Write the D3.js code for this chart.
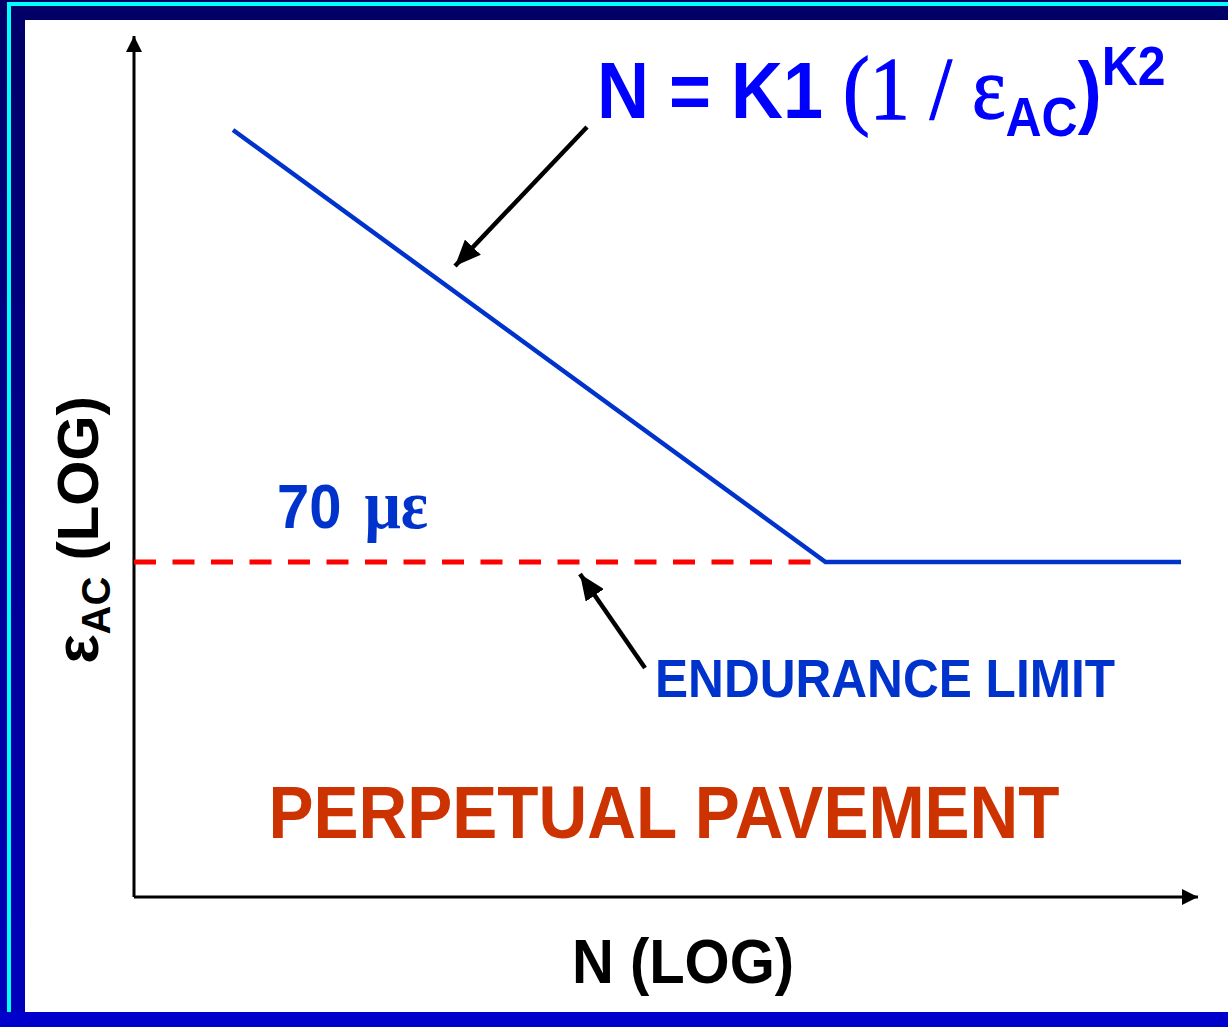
<!DOCTYPE html>
<html>
<head>
<meta charset="utf-8">
<script src="https://cdn.jsdelivr.net/npm/d3@7"></script>
<style>
  html, body { margin: 0; padding: 0; background: #ffffff; }
  svg { display: block; }
</style>
</head>
<body>
<script>
// Fatigue relationship: strain at the bottom of the asphalt layer vs. load repetitions
const fatigueN = [1e3, 1e8];          // load repetitions on the sloped branch
const fatigueStrain = [1000, 70];     // microstrain on the sloped branch
const plateauN = [1e8, 1e11];         // beyond the endurance limit
const plateauStrain = [70, 70];
const enduranceLimit = 70;            // microstrain
const limitLabel = "70 ";
const limitUnit = "\u03bc\u03b5";
const xAxisTitle = "N (LOG)";
const yAxisTitle = ["\u03b5", "AC", " (LOG)"];
const zoneLabel = "PERPETUAL PAVEMENT";
const limitName = "ENDURANCE LIMIT";

const W = 1228, H = 1027;
const sans = "'Liberation Sans', Arial, sans-serif";
const serif = "'Liberation Serif', 'Times New Roman', serif";
const stretch = 1.1;

const svg = d3.select("body").append("svg")
  .attr("width", W).attr("height", H);

const defs = svg.append("defs");
const grad = defs.append("linearGradient")
  .attr("id", "sideBand").attr("x1", 0).attr("y1", 0).attr("x2", 0).attr("y2", 1);
grad.append("stop").attr("offset", "0%").attr("stop-color", "#000066");
grad.append("stop").attr("offset", "100%").attr("stop-color", "#0000bb");

function arrowMarker(id, len, half) {
  defs.append("marker")
    .attr("id", id)
    .attr("viewBox", `0 ${-half} ${len} ${half * 2}`)
    .attr("refX", len).attr("refY", 0)
    .attr("markerUnits", "userSpaceOnUse")
    .attr("markerWidth", len).attr("markerHeight", half * 2)
    .attr("orient", "auto")
    .append("path")
    .attr("d", `M0,${-half}L${len},0L0,${half}Z`)
    .attr("fill", "#000");
}
arrowMarker("axisHead", 16, 8);
arrowMarker("pointer", 26, 11);

// slide frame
svg.append("rect").attr("x", 0).attr("y", 0).attr("width", W).attr("height", 20).attr("fill", "#000066");
svg.append("rect").attr("x", 0).attr("y", 0).attr("width", 25).attr("height", 1012).attr("fill", "url(#sideBand)");
svg.append("rect").attr("x", 7).attr("y", 2).attr("width", W - 7).attr("height", 4).attr("fill", "#00ffff");
svg.append("rect").attr("x", 7).attr("y", 2).attr("width", 4).attr("height", 1010).attr("fill", "#00ffff");
svg.append("rect").attr("x", 0).attr("y", 1012).attr("width", W).attr("height", H - 1012).attr("fill", "#0000cc");

// scales
const x = d3.scaleLog().domain([1e3, 1e11]).range([233, 1181]);
const y = d3.scaleLog().domain([70, 1000]).range([562, 130]);

const originX = 134, originY = 897;

// axes with arrow heads
svg.append("line")
  .attr("x1", originX).attr("y1", originY).attr("x2", 1198).attr("y2", originY)
  .attr("stroke", "#000").attr("stroke-width", 3).attr("marker-end", "url(#axisHead)");
svg.append("line")
  .attr("x1", originX).attr("y1", originY).attr("x2", originX).attr("y2", 36)
  .attr("stroke", "#000").attr("stroke-width", 3).attr("marker-end", "url(#axisHead)");

// endurance limit dashed line
svg.append("line")
  .attr("x1", originX).attr("x2", x(plateauN[0]))
  .attr("y1", y(enduranceLimit)).attr("y2", y(enduranceLimit))
  .attr("stroke", "#ff0000").attr("stroke-width", 5)
  .attr("stroke-dasharray", "22 16.5");

// fatigue curve
const line = d3.line().x(d => x(d[0])).y(d => y(d[1]));
const curve = d3.zip(fatigueN, fatigueStrain).concat(d3.zip(plateauN, plateauStrain).slice(1));
svg.append("path")
  .attr("d", line(curve))
  .attr("fill", "none").attr("stroke", "#0033cc").attr("stroke-width", 4.5);

// pointer arrows
svg.append("line")
  .attr("x1", 587).attr("y1", 127).attr("x2", 455).attr("y2", 266)
  .attr("stroke", "#000").attr("stroke-width", 4.5).attr("marker-end", "url(#pointer)");
svg.append("line")
  .attr("x1", 645).attr("y1", 668).attr("x2", 580).attr("y2", 574)
  .attr("stroke", "#000").attr("stroke-width", 4.5).attr("marker-end", "url(#pointer)");

// formula
const f = svg.append("text")
  .attr("transform", `translate(597,118) scale(1,${stretch})`)
  .attr("fill", "#0000ff");
f.append("tspan").attr("font-family", sans).attr("font-weight", "bold").attr("font-size", 72).text("N = K1 ");
f.append("tspan").attr("font-family", serif).attr("font-size", 80)
  .attr("stroke", "#0000ff").attr("stroke-width", 1.2).text("(1 / \u03b5");
f.append("tspan").attr("font-family", sans).attr("font-weight", "bold").attr("font-size", 50).attr("dy", 16).text("AC");
f.append("tspan").attr("font-family", sans).attr("font-weight", "bold").attr("font-size", 72).attr("dy", -16).text(")");
f.append("tspan").attr("font-family", sans).attr("font-weight", "bold").attr("font-size", 50).attr("dy", -30).text("K2");

// endurance limit value
const v = svg.append("text")
  .attr("transform", `translate(277,528) scale(1,${stretch})`)
  .attr("fill", "#0033cc").attr("font-weight", "bold");
v.append("tspan").attr("font-family", sans).attr("font-size", 58).text(limitLabel);
v.append("tspan").attr("font-family", serif).attr("font-size", 64).attr("dx", 7).text(limitUnit);

svg.append("text")
  .attr("transform", `translate(655,697) scale(1,${stretch})`)
  .attr("font-family", sans).attr("font-weight", "bold").attr("font-size", 49.6)
  .attr("fill", "#0033cc").text(limitName);

svg.append("text")
  .attr("transform", `translate(664,838) scale(1,${stretch})`)
  .attr("text-anchor", "middle")
  .attr("font-family", sans).attr("font-weight", "bold").attr("font-size", 67.5)
  .attr("fill", "#cc3300").text(zoneLabel);

svg.append("text")
  .attr("transform", `translate(683,983) scale(1,${stretch})`)
  .attr("text-anchor", "middle")
  .attr("font-family", sans).attr("font-weight", "bold").attr("font-size", 58)
  .attr("fill", "#000").text(xAxisTitle);

const yt = svg.append("text")
  .attr("transform", "translate(98,530) rotate(-90)")
  .attr("text-anchor", "middle")
  .attr("font-family", sans).attr("font-weight", "bold").attr("fill", "#000");
yt.append("tspan").attr("font-size", 62).text(yAxisTitle[0]);
yt.append("tspan").attr("font-size", 40).attr("dy", 12).text(yAxisTitle[1]);
yt.append("tspan").attr("font-size", 58).attr("dy", -12).text(yAxisTitle[2]);
</script>
</body>
</html>
